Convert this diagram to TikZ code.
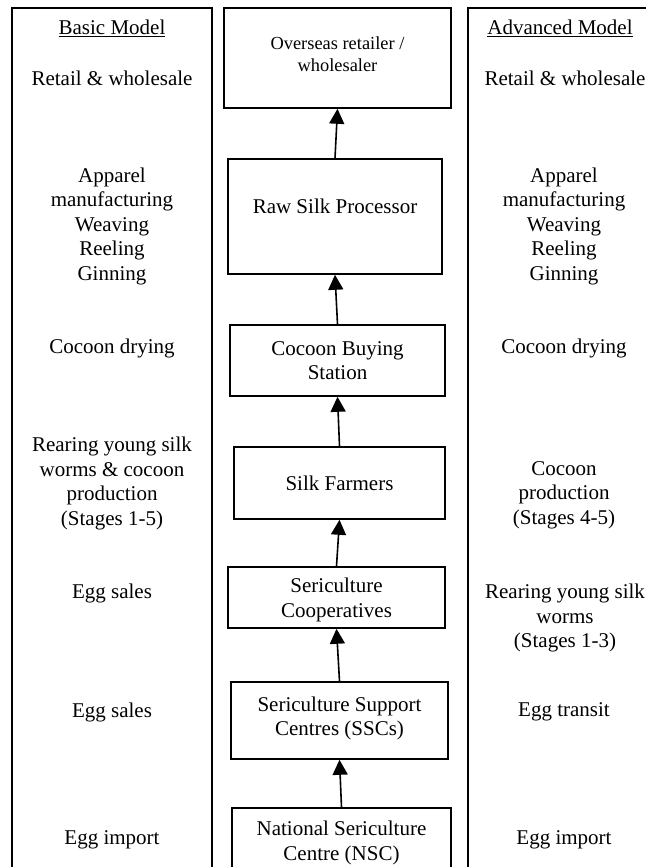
\documentclass[tikz,border=0pt]{standalone}
\usepackage{fontspec}
\setmainfont{Liberation Serif}
\usepackage{tikz}
\usetikzlibrary{arrows.meta}

\begin{document}
\begin{tikzpicture}[x=1pt,y=1pt,yscale=-1,xscale=1,
  stepbox/.style={draw=black, line width=1.6pt, align=center, inner sep=0pt,
    font=\fontsize{21}{24.5}\selectfont},
  coltext/.style={align=center, inner sep=0pt, font=\fontsize{21}{24.5}\selectfont},
  flow/.style={line width=1.6pt, -{Triangle[width=15pt,length=15pt]}}]

\useasboundingbox (0,0) rectangle (645,867);

% the two model columns
\draw[line width=1.6pt] (12,880) -- (12,8) -- (212,8) -- (212,880);
\draw[line width=1.6pt] (468,880) -- (468,8) -- (668,8) -- (668,880);

% value chain
\node[stepbox, minimum width=227pt, minimum height=100pt, text depth=7pt,
  font=\fontsize{18.4}{22}\selectfont] (overseas) at (337.5,58) {Overseas retailer /\\wholesaler};
\node[stepbox, minimum width=214pt, minimum height=115pt, text depth=21pt] (raw) at (335,216.5) {Raw Silk Processor};
\node[stepbox, minimum width=215pt, minimum height=71pt] (cbs) at (337.5,360.5) {Cocoon Buying\\Station};
\node[stepbox, minimum width=211pt, minimum height=72pt] (farmers) at (339.5,483) {Silk Farmers};
\node[stepbox, minimum width=217pt, minimum height=61pt, text depth=0pt] (coop) at (336.5,597.5) {Sericulture\\Cooperatives};
\node[stepbox, minimum width=217pt, minimum height=77pt, text depth=9pt] (ssc) at (339.5,720.5) {Sericulture Support\\Centres (SSCs)};
\node[stepbox, minimum width=219pt, minimum height=70pt] (nsc) at (341.5,843) {National Sericulture\\Centre (NSC)};

\draw[flow] (raw.north) -- (overseas.south);
\draw[flow] (cbs.north) -- (raw.south);
\draw[flow] (farmers.north) -- (cbs.south);
\draw[flow] (coop.north) -- (farmers.south);
\draw[flow] (ssc.north) -- (coop.south);
\draw[flow] (nsc.north) -- (ssc.south);

% basic model
\node[coltext] (bhead) at (112,28) {\underline{Basic Model}};
\node[coltext] (bretail) at (112,78) {Retail \& wholesale};
\node[coltext] (bapparel) at (112,226) {Apparel\\manufacturing\\Weaving\\Reeling\\Ginning};
\node[coltext] (bdrying) at (112,348) {Cocoon drying};
\node[coltext] (brearing) at (112,483.5) {Rearing young silk\\worms \& cocoon\\production\\(Stages 1-5)};
\node[coltext] (bsales) at (112,593) {Egg sales};
\node[coltext] (bsalestwo) at (112,712) {Egg sales};
\node[coltext] (bimport) at (112,840) {Egg import};

% advanced model
\node[coltext] (ahead) at (560,28) {\underline{Advanced Model}};
\node[coltext] (aretail) at (565,78) {Retail \& wholesale};
\node[coltext] (aapparel) at (564,226) {Apparel\\manufacturing\\Weaving\\Reeling\\Ginning};
\node[coltext] (adrying) at (564,348) {Cocoon drying};
\node[coltext] (aproduction) at (564,495) {Cocoon\\production\\(Stages 4-5)};
\node[coltext] (arearing) at (565,618) {Rearing young silk\\worms\\(Stages 1-3)};
\node[coltext] (atransit) at (564,712) {Egg transit};
\node[coltext] (aimport) at (564,840) {Egg import};

\end{tikzpicture}
\end{document}
